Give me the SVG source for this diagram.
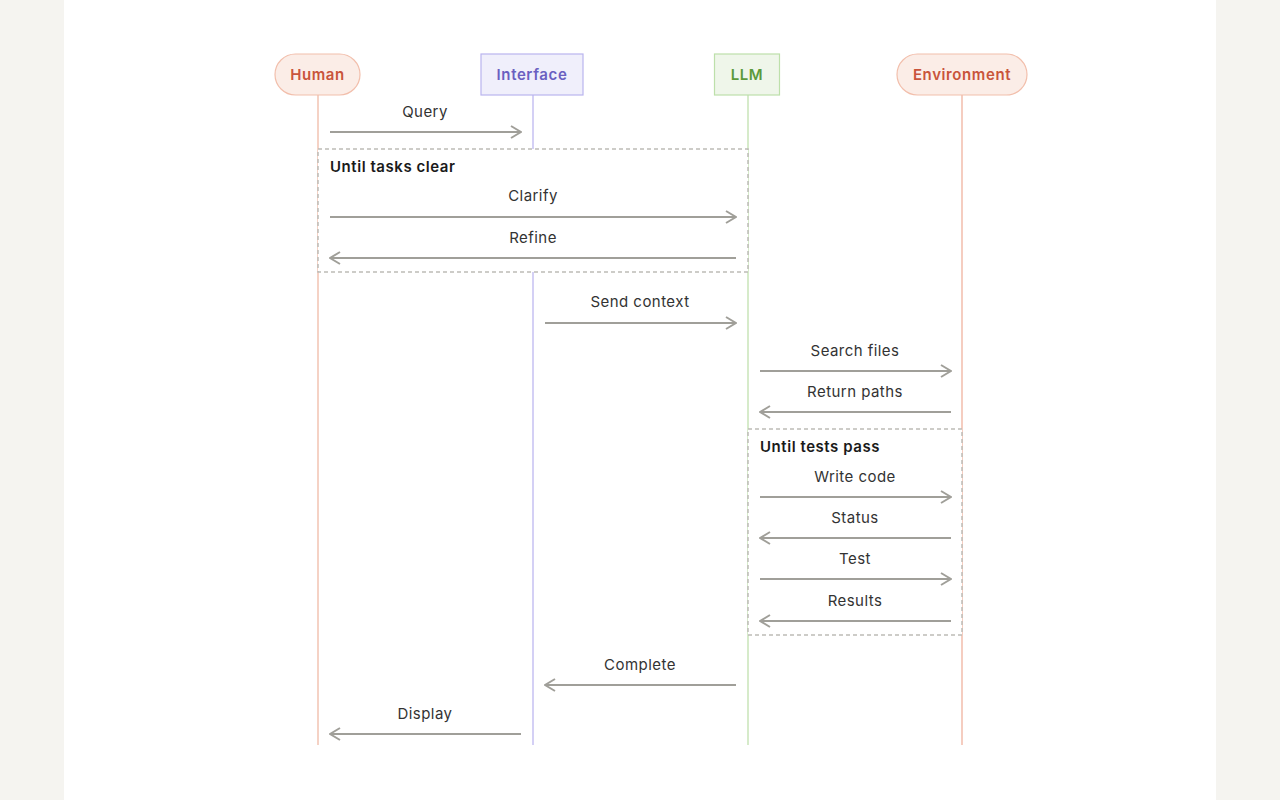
<svg xmlns="http://www.w3.org/2000/svg" width="1280" height="800" viewBox="0 0 1280 800">
<style>
.lbl{font-family:Inter,"Liberation Sans",sans-serif;font-size:15px;letter-spacing:0.45px;fill:#333;text-anchor:middle}
.head{font-family:Inter,"Liberation Sans",sans-serif;font-size:15px;letter-spacing:0.6px;font-weight:600;text-anchor:middle}
.ttl{font-family:Inter,"Liberation Sans",sans-serif;font-size:15px;letter-spacing:0.55px;font-weight:600;fill:#1a1a1a}
.msg{stroke:#a09f99;stroke-width:2;fill:none}
.box{fill:#fff;stroke:#bdbcb6;stroke-width:1.5;stroke-dasharray:4 3}
</style>
<defs>
<marker id="ah" viewBox="0 0 12 14" refX="11" refY="7" markerWidth="12" markerHeight="14" markerUnits="userSpaceOnUse" orient="auto-start-reverse">
<path d="M1,1 L11,7 L1,13" fill="none" stroke="#a09f99" stroke-width="2"/>
</marker>
</defs>
<rect width="1280" height="800" fill="#f5f4f0"/>
<rect x="64" y="0" width="1152" height="800" fill="#fff"/>
<g id="lifelines">
<line x1="318" y1="95" x2="318" y2="745" stroke="#f2c3b2" stroke-width="1.5"/>
<line x1="533" y1="95" x2="533" y2="745" stroke="#c6c1f2" stroke-width="1.5"/>
<line x1="748" y1="95" x2="748" y2="745" stroke="#c9e5b9" stroke-width="1.5"/>
<line x1="962" y1="95" x2="962" y2="745" stroke="#f2bcab" stroke-width="1.5"/>
</g>
<g id="loop1">
<rect class="box" x="318" y="149" width="430" height="123"/>
<text class="ttl" x="330" y="172">Until tasks clear</text>
</g>
<g id="loop2">
<rect class="box" x="748" y="429" width="214" height="206"/>
<text class="ttl" x="760" y="452">Until tests pass</text>
</g>
<g id="human">
<rect x="275" y="54" width="85" height="41" rx="20.5" fill="#fbede7" stroke="#f2bfac" stroke-width="1.2"/>
<text class="head" x="317.5" y="80" fill="#c9543b">Human</text>
</g>
<g id="interface">
<rect x="481" y="54" width="102" height="41" fill="#f0effb" stroke="#b9b4ee" stroke-width="1.2"/>
<text class="head" x="532" y="80" fill="#6a5fc1">Interface</text>
</g>
<g id="llm">
<rect x="714.5" y="54" width="65" height="41" fill="#eff6ea" stroke="#bde0aa" stroke-width="1.2"/>
<text class="head" x="747" y="80" fill="#5b9a3b">LLM</text>
</g>
<g id="environment">
<rect x="897" y="54" width="130" height="41" rx="20.5" fill="#fbede7" stroke="#f2bfac" stroke-width="1.2"/>
<text class="head" x="962" y="80" fill="#c9543b">Environment</text>
</g>
<g id="connectors">
<line class="msg" x1="330" y1="132" x2="521" y2="132" marker-end="url(#ah)"/>
<text class="lbl" x="425" y="117">Query</text>
<line class="msg" x1="330" y1="217" x2="736" y2="217" marker-end="url(#ah)"/>
<text class="lbl" x="533" y="201">Clarify</text>
<line class="msg" x1="736" y1="258" x2="330" y2="258" marker-end="url(#ah)"/>
<text class="lbl" x="533" y="243">Refine</text>
<line class="msg" x1="545" y1="323" x2="736" y2="323" marker-end="url(#ah)"/>
<text class="lbl" x="640" y="307">Send context</text>
<line class="msg" x1="760" y1="371" x2="951" y2="371" marker-end="url(#ah)"/>
<text class="lbl" x="855" y="356">Search files</text>
<line class="msg" x1="951" y1="412" x2="760" y2="412" marker-end="url(#ah)"/>
<text class="lbl" x="855" y="397">Return paths</text>
<line class="msg" x1="760" y1="497" x2="951" y2="497" marker-end="url(#ah)"/>
<text class="lbl" x="855" y="482">Write code</text>
<line class="msg" x1="951" y1="538" x2="760" y2="538" marker-end="url(#ah)"/>
<text class="lbl" x="855" y="523">Status</text>
<line class="msg" x1="760" y1="579" x2="951" y2="579" marker-end="url(#ah)"/>
<text class="lbl" x="855" y="564">Test</text>
<line class="msg" x1="951" y1="621" x2="760" y2="621" marker-end="url(#ah)"/>
<text class="lbl" x="855" y="606">Results</text>
<line class="msg" x1="736" y1="685" x2="545" y2="685" marker-end="url(#ah)"/>
<text class="lbl" x="640" y="670">Complete</text>
<line class="msg" x1="521" y1="734" x2="330" y2="734" marker-end="url(#ah)"/>
<text class="lbl" x="425" y="719">Display</text>
</g>
</svg>
